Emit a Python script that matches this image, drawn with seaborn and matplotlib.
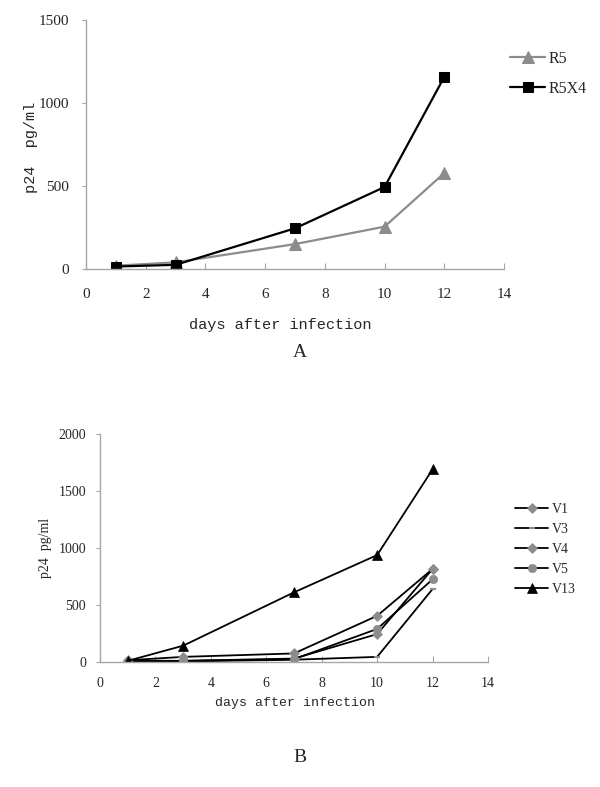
import matplotlib
matplotlib.use("Agg")
import matplotlib.pyplot as plt
import seaborn as sns
import pandas as pd

# data
days = [1, 3, 7, 10, 12]
r5 = [20, 40, 150, 255, 578]
r5x4 = [15, 25, 245, 494, 1157]
v1 = [15, 45, 75, 405, 816]
v3 = [5, 5, 20, 45, 640]
v4 = [10, 10, 30, 245, 816]
v5 = [10, 10, 25, 290, 725]
v13 = [10, 143, 611, 938, 1690]

sns.set_style("white")
plt.rcParams['font.family'] = ['Liberation Serif', 'DejaVu Serif']

GRAY = '#8c8c8c'
AXIS = '#a6a6a6'

fig = plt.figure(figsize=(6, 7.87), dpi=100)
ax_a = fig.add_axes([86 / 600, 1 - 269 / 787, 418 / 600, 249 / 787])
ax_b = fig.add_axes([100 / 600, 1 - 662 / 787, 388 / 600, 228 / 787])

# panel A
df_a = pd.DataFrame({'day': days, 'R5': r5, 'R5X4': r5x4})
sns.lineplot(data=df_a, x='day', y='R5', ax=ax_a, color=GRAY, lw=1.6,
             marker='^', markersize=8, markeredgecolor=GRAY, label='R5')
sns.lineplot(data=df_a, x='day', y='R5X4', ax=ax_a, color='black', lw=1.6,
             marker='s', markersize=7, markeredgecolor='black', label='R5X4')

# panel B
df_b = pd.DataFrame({'day': days, 'V1': v1, 'V3': v3, 'V4': v4, 'V5': v5, 'V13': v13})
styles = [
    ('V1', 'D', 5, GRAY),
    ('V3', '_', 5, GRAY),
    ('V4', 'D', 5, GRAY),
    ('V5', 'o', 6, GRAY),
    ('V13', '^', 7, 'black'),
]
for name, mk, ms, mc in styles:
    sns.lineplot(data=df_b, x='day', y=name, ax=ax_b, color='black', lw=1.3,
                 marker=mk, markersize=ms, markerfacecolor=mc,
                 markeredgecolor=mc, markeredgewidth=1.5 if mk == '_' else 0.5,
                 label=name)

for ax, ymax, step, fs, xpad, ypad in [(ax_a, 1500, 500, 11, 14, 9),
                                       (ax_b, 2000, 500, 10, 11, 7)]:
    ax.set_xlim(0, 14)
    ax.set_ylim(0, ymax)
    ax.set_xticks(range(0, 15, 2))
    ax.set_yticks(range(0, ymax + 1, step))
    for side in ['top', 'right']:
        ax.spines[side].set_visible(False)
    for side in ['left', 'bottom']:
        ax.spines[side].set_color(AXIS)
        ax.spines[side].set_linewidth(1.0)
    ax.tick_params(axis='x', direction='in', length=4, color=AXIS,
                   labelsize=fs, pad=xpad, bottom=True)
    ax.tick_params(axis='y', direction='out', length=3, color=AXIS,
                   labelsize=fs, pad=ypad, left=True)
    ax.set_xlabel('')
    ax.set_ylabel('')

ax_a.legend(loc='upper left', bbox_to_anchor=(510 / 600, 1 - 51 / 787),
            bbox_transform=fig.transFigure, frameon=False, fontsize=11.5,
            handlelength=2.2, handletextpad=0.2, labelspacing=0.85,
            borderpad=0, borderaxespad=0)
ax_b.legend(loc='upper left', bbox_to_anchor=(515 / 600, 1 - 503 / 787),
            bbox_transform=fig.transFigure, frameon=False, fontsize=10,
            handlelength=2.4, handletextpad=0.25, labelspacing=0.5,
            borderpad=0, borderaxespad=0)

# axis labels and panel letters
fig.text(31 / 600, 1 - 147 / 787, 'p24  pg/ml', rotation=90, ha='center',
         va='center', fontsize=11, family='Liberation Mono')
fig.text(280 / 600, 1 - 325 / 787, 'days after infection', ha='center',
         va='center', fontsize=11, family='Liberation Mono')
fig.text(46 / 600, 1 - 548 / 787, 'p24  pg/ml', rotation=90, ha='center',
         va='center', fontsize=10)
fig.text(295 / 600, 1 - 703 / 787, 'days after infection', ha='center',
         va='center', fontsize=9.5, family='Liberation Mono')
fig.text(0.5, 1 - 352 / 787, 'A', ha='center', va='center', fontsize=14)
fig.text(0.5, 1 - 757 / 787, 'B', ha='center', va='center', fontsize=14)

fig.savefig('out.png', dpi=100, facecolor='white')
